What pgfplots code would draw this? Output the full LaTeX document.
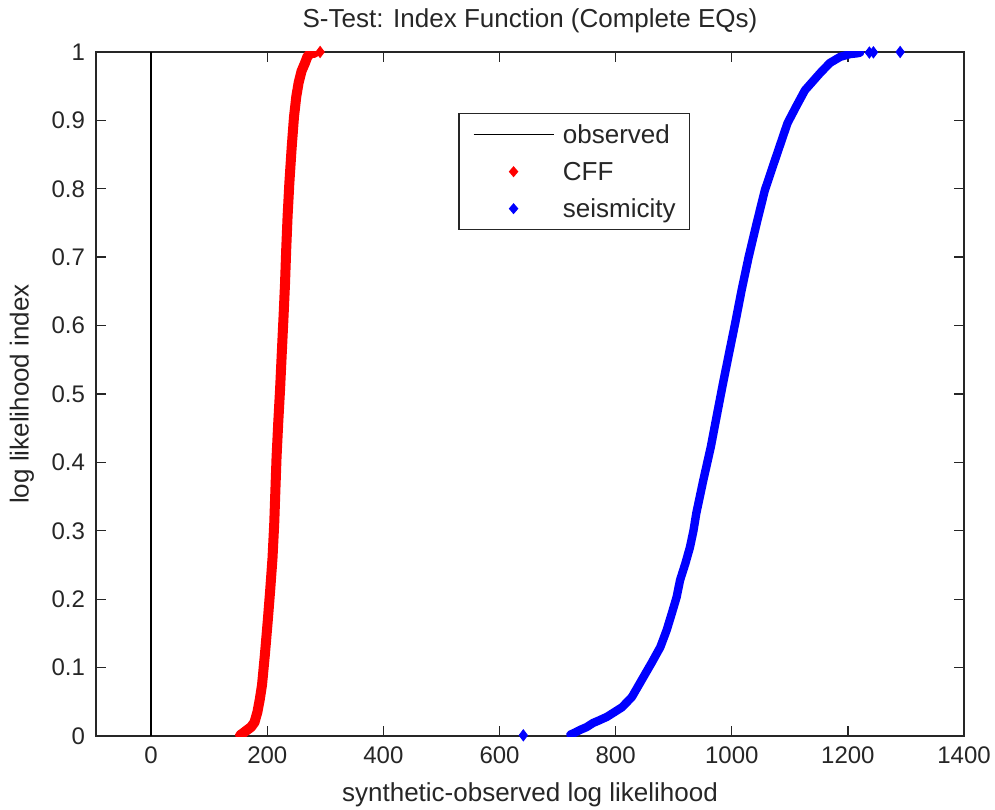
\documentclass[border=0pt]{standalone}
\usepackage{fontspec}
\setmainfont{Liberation Sans}
\usepackage{pgfplots}
\pgfplotsset{compat=1.18}
\begin{document}
\begin{tikzpicture}
\begin{axis}[
  scale only axis, width=434bp, height=342bp,
  xmin=-95, xmax=1400, ymin=0, ymax=1,
  xtick={0,200,400,600,800,1000,1200,1400},
  xticklabels={0,200,400,600,800,1000,1200,1400},
  ytick={0,0.1,0.2,0.3,0.4,0.5,0.6,0.7,0.8,0.9,1},
  yticklabels={0,0.1,0.2,0.3,0.4,0.5,0.6,0.7,0.8,0.9,1},
  tick align=inside, tick pos=both, ticklabel pos=left,
  major tick length=5bp,
  every tick/.style={black!85, line width=0.7bp},
  axis line style={black!85, line width=0.8bp},
  tick label style={font=\fontsize{12bp}{14bp}\selectfont, text=black!85},
  xticklabel style={yshift=-2bp},
  yticklabel style={xshift=-2bp},
  title={S-Test: Index Function (Complete EQs)},
  title style={at={(axis description cs:0.5,1.0468)}, anchor=center, yshift=-6.5bp, font=\fontsize{13bp}{15bp}\selectfont, text=black!85},
  xlabel={synthetic-observed log likelihood},
  xlabel style={at={(axis description cs:0.5,-0.0863)}, anchor=center, font=\fontsize{13bp}{15bp}\selectfont, text=black!85},
  ylabel={log likelihood index},
  ylabel style={at={(axis description cs:-0.0853,0.5)}, anchor=center, font=\fontsize{13bp}{15bp}\selectfont, text=black!85},
  legend cell align=left,
  legend style={at={(axis description cs:0.417,0.911)}, anchor=north west,
    draw=black!85, line width=0.8bp, fill=white, font=\fontsize{13bp}{15bp}\selectfont,
    inner xsep=7bp, inner ysep=4.5bp, row sep=6.5bp, column sep=4.3bp,
    nodes={inner sep=0pt, text=black!85}},
]
\addplot[black, line width=0.8bp,
  legend image code/.code={\draw[black, line width=0.8bp] (0bp,0bp) -- (40bp,0bp);}]
  coordinates {(0,0) (0,1)};
\addlegendentry{observed\strut}

\addplot[red, line width=5bp, line join=round, line cap=round,
  legend image code/.code={\path[draw=none] (0bp,0bp) -- (40bp,0bp);
    \fill[red, draw=none] (20bp,2.8bp) -- (22.4bp,0bp) -- (20bp,-2.8bp) -- (17.6bp,0bp) -- cycle;}]
  coordinates {
  (153,0.001) (158,0.004) (164,0.008) (172,0.013) (178,0.020) (183,0.035)
  (187,0.053) (191,0.075) (196,0.120) (201,0.170) (205,0.213) (209,0.260)
  (212,0.311) (214,0.360) (216,0.408) (219,0.460) (222,0.506) (225,0.560)
  (228,0.613) (230.5,0.660) (232.6,0.711) (235,0.760) (238,0.808) (242,0.860)
  (246,0.905) (250,0.935) (254,0.955) (259,0.972) (265,0.984) (269,0.993)
  (274,0.998) (282,0.999)};
\addlegendentry{CFF\strut}

\addplot[blue, line width=4.2bp, line join=round, line cap=round,
  legend image code/.code={\path[draw=none] (0bp,0bp) -- (40bp,0bp);
    \fill[blue, draw=none] (20bp,2.8bp) -- (22.4bp,0bp) -- (20bp,-2.8bp) -- (17.6bp,0bp) -- cycle;}]
  coordinates {
  (722,0.002) (730,0.005) (739,0.009) (750,0.013) (761,0.019) (772,0.023)
  (785,0.028) (798,0.035) (811,0.042) (828,0.057) (845,0.082) (862,0.107)
  (877,0.130) (888,0.155) (897,0.180) (905,0.203) (911,0.228) (920,0.252)
  (928,0.276) (934,0.300) (939,0.326) (951,0.374) (964,0.423) (975,0.472)
  (985,0.516) (994,0.554) (1006,0.604) (1017,0.652) (1029,0.700) (1043,0.750)
  (1057,0.798) (1076,0.846) (1096,0.896) (1112,0.922) (1126,0.944) (1152,0.969)
  (1169,0.984) (1187,0.993) (1204,0.997) (1215,0.998) (1221,0.999)};
\addlegendentry{seismicity\strut}

\addplot[red, only marks, mark=diamond*, mark size=2.8bp, forget plot]
  coordinates {(291,1.0)};
\addplot[blue, only marks, mark=diamond*, mark size=2.8bp, forget plot]
  coordinates {(641,0.001) (1237,0.9992) (1244,0.9995) (1290,1.0)};
\end{axis}
\pgfresetboundingbox
\path (current axis.south west) ++(-48bp,-37bp) rectangle ([shift={(15.5bp,26bp)}]current axis.north east);
\end{tikzpicture}
\end{document}
